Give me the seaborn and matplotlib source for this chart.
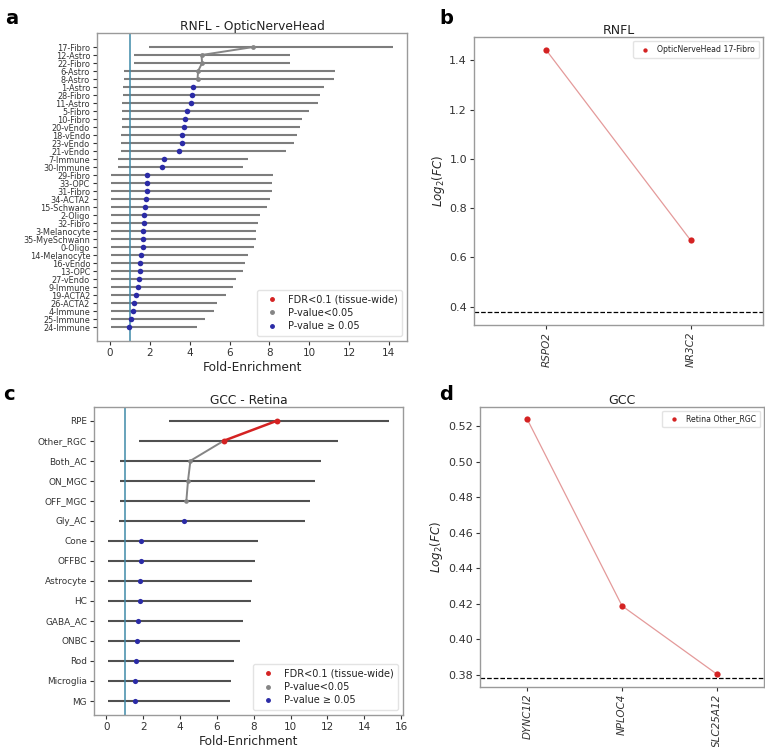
import matplotlib
matplotlib.use('Agg')
import matplotlib.pyplot as plt
from matplotlib.lines import Line2D
import numpy as np
import pandas as pd
import seaborn as sns

sns.set_style('white')
plt.rcParams['axes.edgecolor'] = '#9a9a9a'
plt.rcParams['axes.linewidth'] = 1.0
plt.rcParams['text.color'] = '#222222'
plt.rcParams['xtick.color'] = '#333333'
plt.rcParams['ytick.color'] = '#333333'
plt.rcParams['xtick.bottom'] = True
plt.rcParams['ytick.left'] = True
plt.rcParams['font.family'] = ['DejaVu Sans']

# ---- panel a : RNFL - OpticNerveHead enrichment
onh_cells = ['17-Fibro', '12-Astro', '22-Fibro', '6-Astro', '8-Astro', '1-Astro',
             '28-Fibro', '11-Astro', '5-Fibro', '10-Fibro', '20-vEndo', '18-vEndo',
             '23-vEndo', '21-vEndo', '7-Immune', '30-Immune', '29-Fibro', '33-OPC',
             '31-Fibro', '34-ACTA2', '15-Schwann', '2-Oligo', '32-Fibro', '3-Melanocyte',
             '35-MyeSchwann', '0-Oligo', '14-Melanocyte', '16-vEndo', '13-OPC',
             '27-vEndo', '9-Immune', '19-ACTA2', '26-ACTA2', '4-Immune', '25-Immune',
             '24-Immune']
onh_fe = [7.19, 4.59, 4.62, 4.42, 4.39, 4.18, 4.10, 4.07, 3.88, 3.76, 3.73, 3.63,
          3.60, 3.44, 2.69, 2.60, 1.85, 1.85, 1.85, 1.82, 1.76, 1.71, 1.68, 1.65,
          1.65, 1.63, 1.55, 1.51, 1.51, 1.43, 1.39, 1.31, 1.19, 1.16, 1.07, 0.97]
onh_lo = [1.93, 1.22, 1.22, 0.69, 0.69, 0.64, 0.64, 0.62, 0.60, 0.59, 0.59, 0.55,
          0.55, 0.53, 0.42, 0.39, 0.07, 0.07, 0.07, 0.06, 0.06, 0.06, 0.06, 0.06,
          0.06, 0.06, 0.05, 0.05, 0.05, 0.05, 0.05, 0.05, 0.05, 0.05, 0.05, 0.05]
onh_hi = [14.2, 9.04, 9.04, 11.31, 11.26, 10.76, 10.55, 10.42, 9.98, 9.66, 9.55, 9.36,
          9.21, 8.84, 6.91, 6.67, 8.18, 8.12, 8.12, 8.03, 7.87, 7.55, 7.41, 7.31,
          7.31, 7.23, 6.94, 6.77, 6.67, 6.32, 6.18, 5.80, 5.38, 5.21, 4.76, 4.34]
onh_sig = ['p'] * 5 + ['ns'] * 31

# ---- panel c : GCC - Retina enrichment
ret_cells = ['RPE', 'Other_RGC', 'Both_AC', 'ON_MGC', 'OFF_MGC', 'Gly_AC', 'Cone',
             'OFFBC', 'Astrocyte', 'HC', 'GABA_AC', 'ONBC', 'Rod', 'Microglia', 'MG']
ret_fe = [9.26, 6.37, 4.56, 4.43, 4.34, 4.20, 1.90, 1.86, 1.83, 1.82, 1.72, 1.68,
          1.59, 1.56, 1.56]
ret_lo = [3.42, 1.75, 0.76, 0.72, 0.72, 0.67, 0.09, 0.11, 0.11, 0.11, 0.11, 0.11,
          0.11, 0.11, 0.11]
ret_hi = [15.34, 12.55, 11.65, 11.32, 11.07, 10.76, 8.23, 8.07, 7.90, 7.87, 7.43,
          7.25, 6.91, 6.76, 6.69]
ret_sig = ['fdr', 'fdr', 'p', 'p', 'p'] + ['ns'] * 10

# ---- panels b / d : log2 fold change of genes
rnfl_genes = ['RSPO2', 'NR3C2']
rnfl_lfc = [1.442, 0.669]
gcc_genes = ['DYNC1I2', 'NPLOC4', 'SLC25A12']
gcc_lfc = [0.5237, 0.4189, 0.3806]
lfc_cut = np.log2(1.3)

RED = '#d42222'
GREY = '#858585'
BLUE = '#2b2ba6'
VLINE = '#3f8aa8'
sig_pal = {'fdr': RED, 'p': GREY, 'ns': BLUE}


def enrich_panel(ax, cells, fe, lo, hi, sig, title, ci_col, ylab_size, sizes):
    df = pd.DataFrame({'cell': cells, 'fe': fe, 'lo': lo, 'hi': hi, 'sig': sig})
    df['pos'] = np.arange(len(df))
    ax.hlines(df.pos, df.lo, df.hi, color=ci_col, lw=1.5, zorder=1)
    ax.axvline(1, color=VLINE, lw=1.1, zorder=2)
    red = df[df.sig == 'fdr']
    grey = df[df.sig == 'p']
    if len(red) > 1:
        sns.lineplot(data=red, x='fe', y='pos', sort=False, estimator=None,
                     color=RED, lw=1.8, ax=ax, zorder=3)
    gline = pd.concat([red.tail(1), grey])
    sns.lineplot(data=gline, x='fe', y='pos', sort=False, estimator=None,
                 color=GREY, lw=1.4, ax=ax, zorder=3)
    for key in ['fdr', 'p', 'ns']:
        sub = df[df.sig == key]
        if len(sub):
            sns.scatterplot(data=sub, x='fe', y='pos', color=sig_pal[key], s=sizes[key],
                            linewidth=0, ax=ax, zorder=4, legend=False)
    ax.invert_yaxis()
    ax.set_yticks(df.pos, df.cell, fontsize=ylab_size)
    ax.set_xticks(np.arange(0, 17, 2))
    ax.set_xlim(min(lo) - 0.05 * (max(hi) - min(lo)), max(hi) + 0.05 * (max(hi) - min(lo)))
    ax.tick_params(axis='x', labelsize=7.5, length=3, pad=2)
    ax.tick_params(axis='y', length=3, pad=2)
    ax.set_ylabel('')
    ax.set_xlabel('Fold-Enrichment', fontsize=8.7, labelpad=2)
    ax.set_title(title, fontsize=8.8, pad=2)
    handles = [Line2D([], [], ls='', marker='o', ms=2.5, color=c) for c in (RED, GREY, BLUE)]
    ax.legend(handles, ['FDR<0.1 (tissue-wide)', 'P-value<0.05', 'P-value \u2265 0.05'],
              loc='lower right', fontsize=7, frameon=True, edgecolor='#dddddd',
              handletextpad=0.6, borderpad=0.5, labelspacing=0.35)


def lfc_panel(ax, genes, lfc, title, leg):
    df = pd.DataFrame({'gene': genes, 'lfc': lfc, 'pos': np.arange(len(genes))})
    sns.lineplot(data=df, x='pos', y='lfc', color='#e49a9a', lw=0.9, ax=ax,
                 estimator=None, zorder=2)
    sns.scatterplot(data=df, x='pos', y='lfc', color=RED, s=20, linewidth=0,
                    ax=ax, zorder=3, label=leg)
    ax.axhline(lfc_cut, color='k', ls='--', lw=0.9)
    ax.set_xlim(-0.5, len(genes) - 0.5)
    ax.set_xticks(df.pos, df.gene, rotation=90, fontstyle='italic', fontsize=7.5)
    ax.tick_params(axis='y', labelsize=8, length=3, pad=2)
    ax.tick_params(axis='x', length=3, pad=2)
    ax.set_xlabel('')
    ax.set_ylabel('$Log_2(FC)$', fontsize=8.5, labelpad=2)
    ax.set_title(title, fontsize=9, pad=2)
    ax.legend(loc='upper right', fontsize=5.6, frameon=True, edgecolor='#dddddd',
              markerscale=0.7, handletextpad=0.6, borderpad=0.5)


fig = plt.figure(figsize=(7.65, 7.47), dpi=100)
ax_a = fig.add_axes([0.1268, 0.5435, 0.4052, 0.4123])
ax_b = fig.add_axes([0.6196, 0.5649, 0.3778, 0.3855])
ax_c = fig.add_axes([0.1229, 0.0428, 0.4039, 0.4127])
ax_d = fig.add_axes([0.6275, 0.0807, 0.3712, 0.3748])

enrich_panel(ax_a, onh_cells, onh_fe, onh_lo, onh_hi, onh_sig,
             'RNFL - OpticNerveHead', '#7d7d7d', 5.9, {'fdr': 16, 'p': 12, 'ns': 16})
enrich_panel(ax_c, ret_cells, ret_fe, ret_lo, ret_hi, ret_sig,
             'GCC - Retina', '#505050', 6.4, {'fdr': 18, 'p': 11, 'ns': 14})
lfc_panel(ax_b, rnfl_genes, rnfl_lfc, 'RNFL', 'OpticNerveHead 17-Fibro')
lfc_panel(ax_d, gcc_genes, gcc_lfc, 'GCC', 'Retina Other_RGC')

for lab, x, y in [('a', 5, 24), ('b', 439, 24), ('c', 3, 400), ('d', 439, 400)]:
    fig.text(x / 765, 1 - y / 747, lab, fontsize=14, fontweight='bold', color='k')

fig.savefig('out.png', dpi=100)
